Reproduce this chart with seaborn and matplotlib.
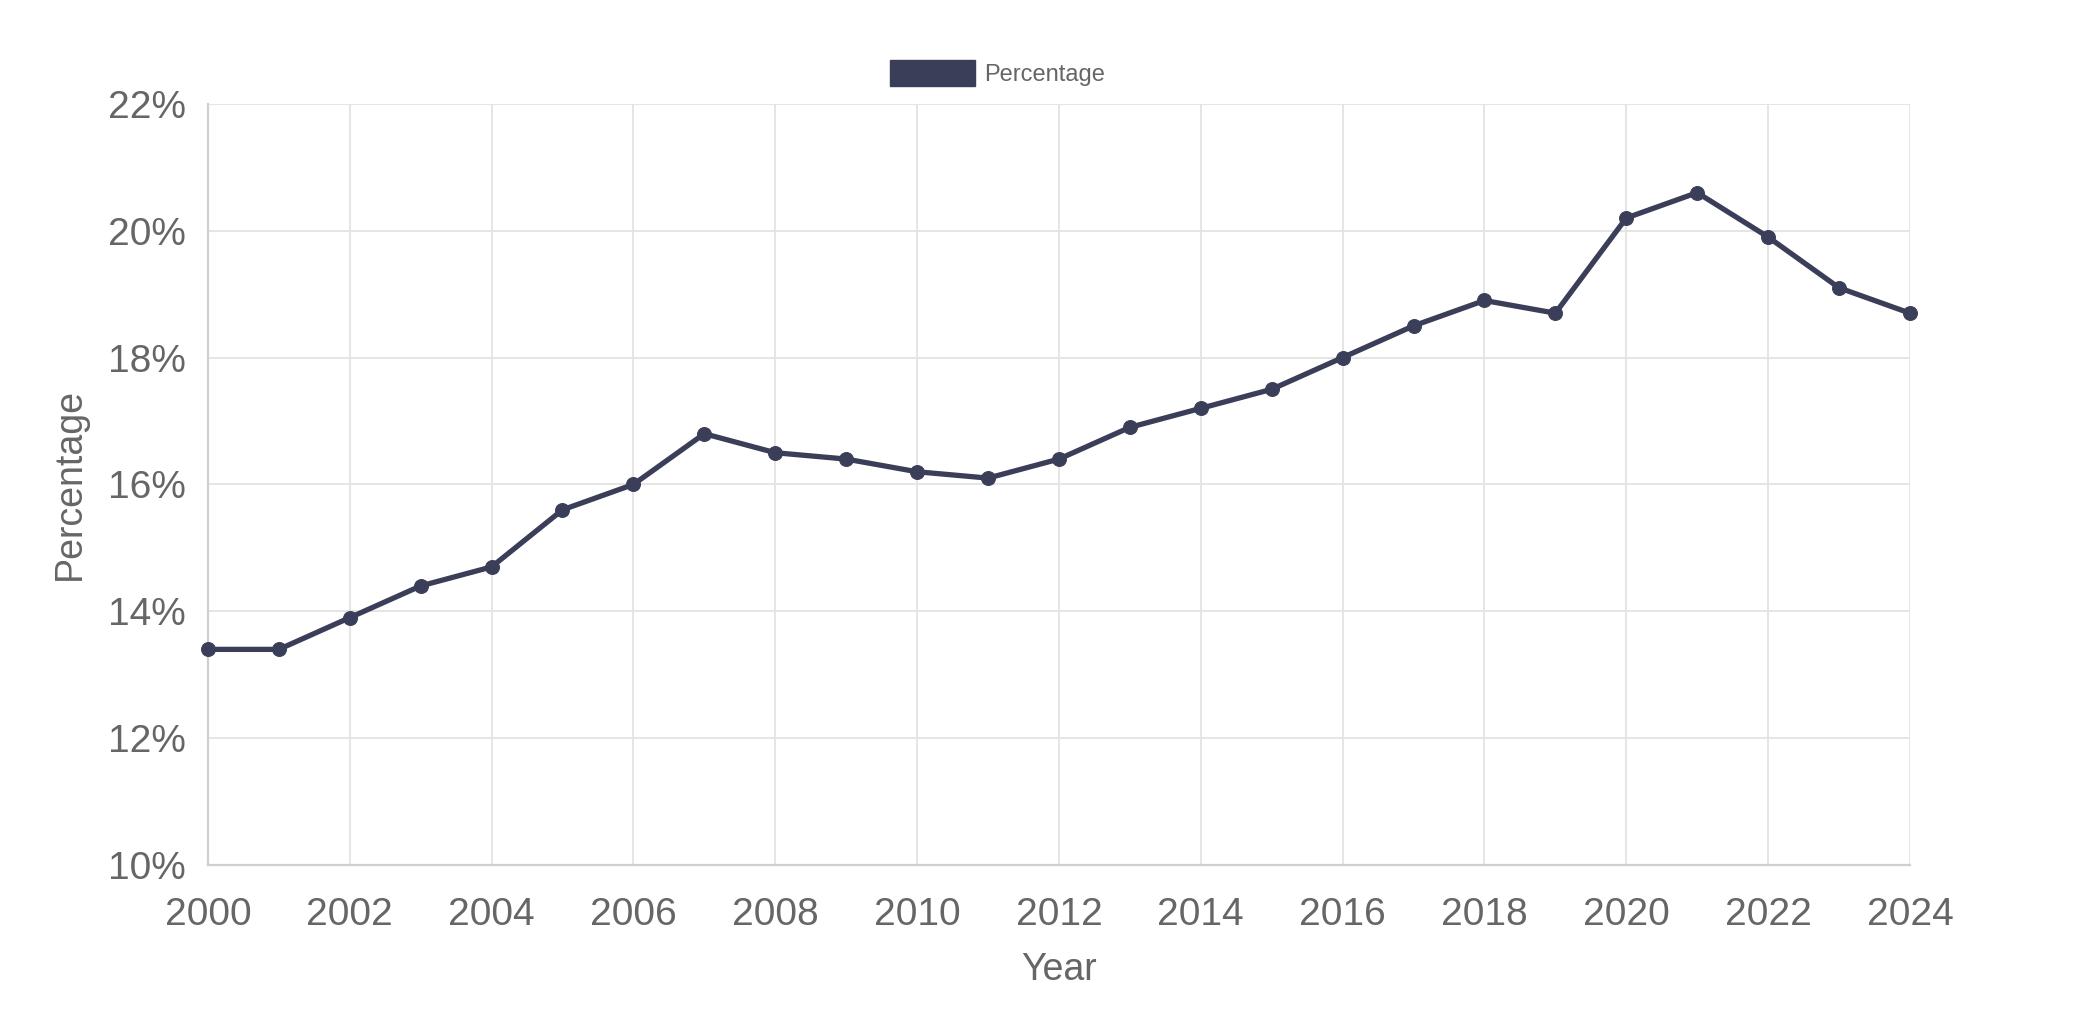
import numpy as np
import pandas as pd
import matplotlib
matplotlib.use('Agg')
import matplotlib.pyplot as plt
from matplotlib.patches import Patch
from matplotlib.ticker import FuncFormatter, MultipleLocator
import seaborn as sns

# Data
years = list(range(2000, 2025))
percentage = [13.4, 13.4, 13.9, 14.4, 14.7, 15.6, 16.0, 16.8, 16.5, 16.4,
              16.2, 16.1, 16.4, 16.9, 17.2, 17.5, 18.0, 18.5, 18.9, 18.7,
              20.2, 20.6, 19.9, 19.1, 18.7]
series_name = 'Percentage'

df = pd.DataFrame({'Year': years, 'Percentage': percentage})

sns.set_theme(style='white')
plt.rcParams['font.family'] = ['Liberation Sans', 'DejaVu Sans']

line_color = '#3a3e58'
text_color = '#666666'
grid_color = '#e3e3e3'

fig = plt.figure(figsize=(21, 10.28), dpi=100)
ax = fig.add_axes([0.099, 0.1585, 0.8105, 0.7405])

sns.lineplot(data=df, x='Year', y='Percentage', ax=ax, color=line_color,
             linewidth=3.8, marker='o', markersize=10,
             markeredgecolor=line_color, markerfacecolor=line_color,
             clip_on=False, zorder=5)

ax.set_xlim(2000, 2024)
ax.set_ylim(10, 22)
ax.xaxis.set_major_locator(MultipleLocator(2))
ax.yaxis.set_major_locator(MultipleLocator(2))
ax.yaxis.set_major_formatter(FuncFormatter(lambda v, p: f'{v:.0f}%'))

ax.grid(True, color=grid_color, linewidth=1.3)
for side in ['top', 'right']:
    ax.spines[side].set_visible(False)
for side in ['left', 'bottom']:
    ax.spines[side].set_color('#cfcfcf')
    ax.spines[side].set_linewidth(1.6)

ax.tick_params(axis='both', length=10, width=1.3, color=grid_color,
               labelcolor=text_color)
ax.tick_params(axis='y', labelsize=28, pad=6)
ax.tick_params(axis='x', labelsize=28, pad=13)

ax.set_xlabel('Year', fontsize=27, color=text_color, labelpad=14)
ax.set_ylabel('Percentage', fontsize=27, color=text_color, labelpad=14)

handle = Patch(facecolor=line_color, edgecolor=line_color)
fig.legend([handle], [series_name], loc='center', bbox_to_anchor=(0.475, 0.929),
           frameon=False, fontsize=17, labelcolor=text_color,
           handlelength=3.6, handleheight=1.3, handletextpad=0.4)

fig.savefig('out.png', dpi=100)
